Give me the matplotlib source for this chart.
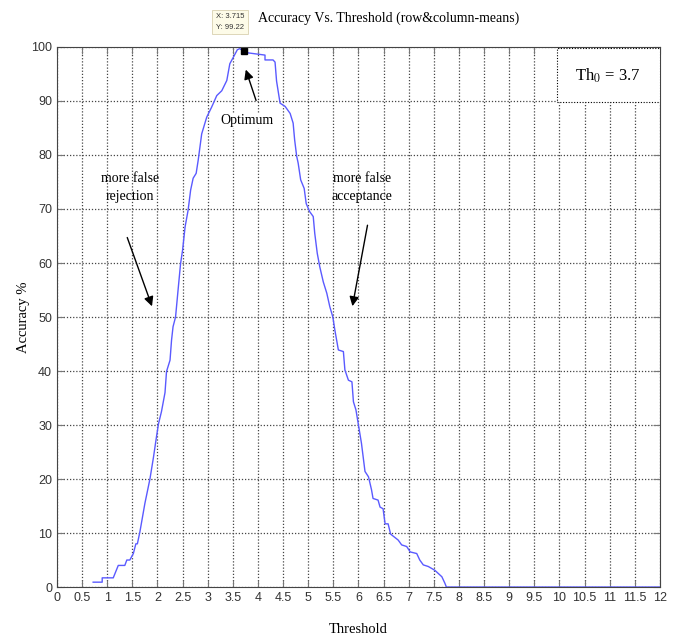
import matplotlib
matplotlib.use('Agg')
import matplotlib.pyplot as plt
import matplotlib.patches as patches
from matplotlib.ticker import MultipleLocator, FormatStrFormatter

plt.rcParams['mathtext.fontset'] = 'stix'

# threshold / accuracy
threshold = [0.72, 0.9, 0.9, 1.12, 1.22, 1.35, 1.39, 1.45, 1.52, 1.57, 1.6, 1.65,
             1.75, 1.85, 1.92, 1.98, 2.02, 2.08, 2.15, 2.18, 2.21, 2.25, 2.28, 2.31,
             2.36, 2.41, 2.46, 2.5, 2.55, 2.61, 2.66, 2.71, 2.77, 2.81, 2.88, 2.98,
             3.08, 3.18, 3.28, 3.38, 3.44, 3.51, 3.59, 3.64, 3.715, 3.81, 4.14, 4.14,
             4.3, 4.34, 4.37, 4.44, 4.54, 4.64, 4.7, 4.73, 4.77, 4.8, 4.85, 4.92,
             4.96, 5.03, 5.1, 5.13, 5.18, 5.23, 5.3, 5.37, 5.43, 5.49, 5.53, 5.6,
             5.7, 5.73, 5.8, 5.87, 5.9, 5.95, 6.0, 6.06, 6.13, 6.2, 6.26, 6.29,
             6.39, 6.43, 6.49, 6.53, 6.59, 6.64, 6.79, 6.86, 6.96, 7.03, 7.16, 7.22,
             7.29, 7.39, 7.52, 7.59, 7.66, 7.72, 7.75, 12.0]
accuracy = [0.9, 0.9, 1.7, 1.7, 4.0, 4.0, 5.0, 5.0, 6.2, 8.0, 8.0, 10.2,
            15.5, 20, 24, 27.8, 30.2, 32.5, 36, 39.9, 40.8, 42, 45.7, 48.2,
            50, 55, 59.9, 62.4, 66.7, 69.8, 73.5, 75.7, 76.6, 79, 83.9, 87,
            88.9, 91, 91.9, 93.8, 96.9, 98.1, 99.5, 99.7, 99.22, 98.9, 98.5, 97.6,
            97.6, 97.2, 93.7, 89.6, 89, 87.7, 85.9, 82.8, 79.8, 78.5, 75.4, 73.8,
            71, 69.5, 68.6, 65.5, 61.8, 59.3, 56.5, 54.4, 51.9, 50, 47.6, 43.9,
            43.6, 40.2, 38.3, 38, 34.3, 32.8, 30, 26.6, 21.4, 20.4, 18, 16.4,
            16.1, 14.8, 14.5, 11.7, 11.7, 9.8, 8.7, 7.8, 7.5, 6.5, 6.2, 5.0,
            4.1, 3.8, 3.1, 2.5, 1.9, 0.7, 0, 0]

opt_x, opt_y = 3.715, 99.22

serif = ['Liberation Serif', 'DejaVu Serif']
narrow = ['Liberation Sans Narrow', 'Liberation Sans', 'DejaVu Sans']

fig = plt.figure(figsize=(6.75, 6.41), dpi=100)
ax = fig.add_axes([0.0844, 0.0842, 0.8933, 0.8425])

ax.plot(threshold, accuracy, color='#5a5aff', lw=1.0)
ax.plot(opt_x, opt_y, marker='s', color='black', ms=4)

ax.set_xlim(0, 12)
ax.set_ylim(0, 100)
ax.xaxis.set_major_locator(MultipleLocator(0.5))
ax.yaxis.set_major_locator(MultipleLocator(10))
ax.xaxis.set_major_formatter(FormatStrFormatter('%g'))
ax.tick_params(direction='in', length=5, color='#777777', top=True, right=True,
               labelsize=9, labelcolor='#333333')
for lab in ax.get_xticklabels() + ax.get_yticklabels():
    lab.set_family(narrow)
ax.grid(True, linestyle=(0, (1, 1.5)), color='#444444', lw=0.9)
for s in ax.spines.values():
    s.set_color('#444444')

ax.set_xlabel('Threshold', family=serif, fontsize=10.5, labelpad=14)
ax.set_ylabel('Accuracy %', family=serif, fontsize=10.5, labelpad=1)

fig.text(0.576, 0.972, 'Accuracy Vs. Threshold (row&column-means)',
         family=serif, fontsize=10, ha='center', va='center')

# data tip
fig.text(0.341, 0.966, 'X: 3.715\nY: 99.22', fontsize=5.5, family=narrow,
         ha='center', va='center', color='#333333', linespacing=1.7,
         bbox=dict(boxstyle='square,pad=0.45', fc='#fdfbe8', ec='#d8d0b0', lw=0.6))

# Th0 box
ax.add_patch(patches.Rectangle((0.829, 0.898), 0.171, 0.1, transform=ax.transAxes,
                               fill=True, fc='white', ec='black', ls=(0, (1, 1.5)),
                               lw=0.8, zorder=5))
ax.text(0.914, 0.947, r'Th$_0$ = 3.7', transform=ax.transAxes, ha='center',
        va='center', fontsize=12, family=serif, zorder=6)

arrow = dict(arrowstyle='-|>', color='black', lw=1.0, mutation_scale=14)
ax.annotate('', xy=(3.74, 96.3), xytext=(3.98, 89.6), arrowprops=arrow)
ax.text(3.79, 86.4, 'Optimum', ha='center', va='center', family=serif, fontsize=10,
        bbox=dict(fc='white', ec='none', pad=1))
ax.annotate('', xy=(1.91, 51.5), xytext=(1.38, 65.2), arrowprops=arrow)
ax.annotate('', xy=(5.87, 51.5), xytext=(6.19, 67.5), arrowprops=arrow)
ax.text(1.45, 74, 'more false\nrejection', ha='center', va='center', family=serif,
        fontsize=10, linespacing=1.5)
ax.text(6.07, 74, 'more false\nacceptance', ha='center', va='center', family=serif,
        fontsize=10, linespacing=1.5)

fig.savefig('out.png', dpi=100)
